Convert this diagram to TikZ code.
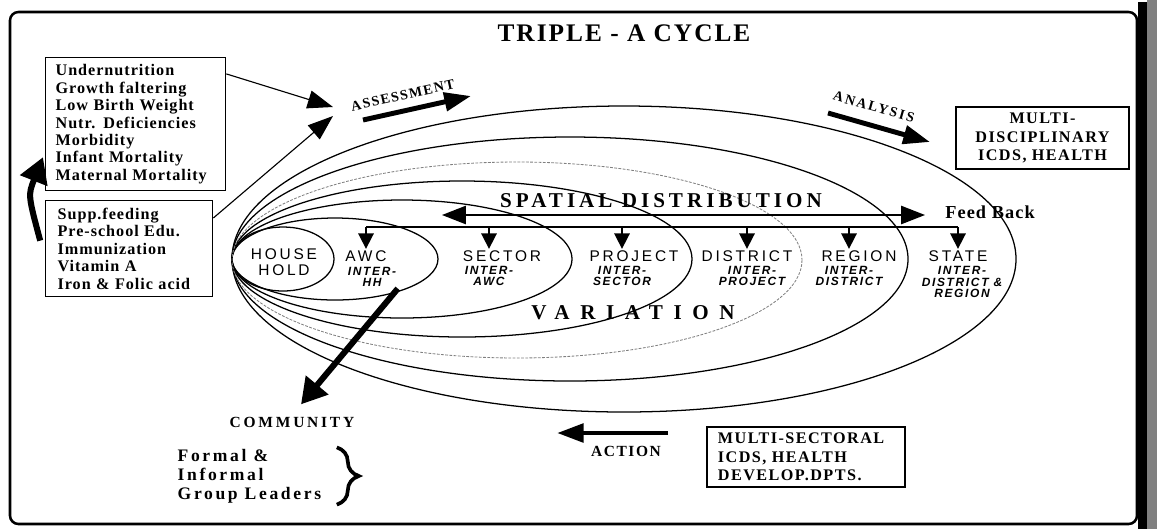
\documentclass[tikz,border=0pt]{standalone}
\usepackage{fontspec}
\setmainfont{Liberation Serif}
\setsansfont{Liberation Sans}
\usepackage{tikz}
\usetikzlibrary{arrows.meta,decorations.pathreplacing,positioning}

\newcommand{\spacedbf}[3]{\fontsize{#1}{#2}\selectfont\bfseries\addfontfeature{LetterSpace=#3}}

\begin{document}
\begin{tikzpicture}[
  x=0.025cm, y=-0.025cm,
  title/.style={font=\spacedbf{18}{20}{8}, inner sep=1pt},
  banner/.style={font=\spacedbf{15}{17}{#1}, inner sep=1pt},
  tag/.style n args={3}{font=\spacedbf{#1}{#2}{#3}, inner sep=1pt},
  listbox/.style={draw, line width=0.9pt, align=left, inner ysep=0pt, font=\spacedbf{11.5}{12.4}{6}},
  deptbox/.style={draw, line width=0.9pt, inner ysep=0pt, font=\spacedbf{11.5}{13}{9}},
  level/.style={font=\sffamily\fontsize{11}{11.4}\selectfont\addfontfeature{LetterSpace=18}, inner sep=1pt, align=center},
  inter/.style={font=\sffamily\bfseries\itshape\fontsize{8.5}{8.2}\selectfont\addfontfeature{LetterSpace=14}, inner sep=1pt, align=center},
  ring/.style={line width=0.9pt},
  drop/.style={line width=1.2pt, -{Triangle[length=11pt,width=11pt]}},
  feedback/.style={line width=1.2pt, {Triangle[length=17pt,width=13pt]}-{Triangle[length=17pt,width=13pt]}},
  pointer/.style={line width=0.8pt, -{Triangle[length=18pt,width=13pt]}},
  heavy/.style={line width=3.5pt, -{Triangle[length=19pt,width=13pt]}},
  fat/.style={line width=4.3pt, -{Triangle[length=18pt,width=20pt]}}
]
  \path[use as bounding box] (0,0) rectangle (1157,529);
  % frame with dark edge on the right
  \draw[line width=1.8pt, rounded corners=6pt] (10,12) rectangle (1137,524);
  \fill (1138,2) rectangle (1147,529);
  \fill[black!50] (1147,0) rectangle (1157,529);

  \node[title] (title) at (624,33) {TRIPLE - A CYCLE};

  % nested levels, all touching at the household end
  \foreach \cx/\rx/\ry in {283/51/32, 335/103/41, 402/170/59, 462/230/78, 570/338/122, 624/392/153}
    \draw[ring] (\cx,259) ellipse [x radius=\rx, y radius=\ry];
  \draw[line width=0.6pt, gray, dash pattern=on 2pt off 1pt] (517,260) ellipse [x radius=285, y radius=98];

  \node[level] (hh)       at (284,262) {HOUSE\\HOLD};
  \node[level] (awc)      at (366,256) {AWC};
  \node[inter] (awcsub)   at (372,277) {INTER-\\HH};
  \node[level] (sec)      at (502,256) {SECTOR};
  \node[inter] (secsub)   at (489,276) {INTER-\\AWC};
  \node[level] (proj)     at (634,256) {PROJECT};
  \node[inter] (projsub)  at (622,276) {INTER-\\SECTOR};
  \node[level] (dist)     at (747,256) {DISTRICT};
  \node[inter] (distsub)  at (752,276) {INTER-\\PROJECT};
  \node[level] (reg)      at (859,256) {REGION};
  \node[inter] (regsub)   at (849,276) {INTER-\\DISTRICT};
  \node[level] (state)    at (958,256) {STATE};
  \node[inter] (statesub) at (962,282) {INTER-\\DISTRICT \&\\REGION};

  \node[banner=19] (spatial) at (661,201) {SPATIAL DISTRIBUTION};
  \node[banner=50] (variation) at (633,313) {VARIATION};

  % feed back and distribution lines
  \coordinate (fbl) at (442,215);
  \coordinate (fbr) at (925,215);
  \draw[feedback] (fbl) -- (fbr);
  \node[tag={13}{14}{6}] (feed) at (990,212) {Feed Back};
  \coordinate (bus) at (0,227);
  \draw[line width=1.2pt] (awc.north |- bus) -- (state.north |- bus);
  \foreach \n in {awc,secsub,projsub,dist,regsub,state}
    \draw[drop] (\n.north |- bus) -- (\n.north |- sec.north);

  % left boxes
  \node[listbox, text width=4cm, inner xsep=0.25cm, minimum height=3.325cm, anchor=north west] (effects) at (45,57)
    {Undernutrition\\Growth faltering\\Low Birth Weight\\Nutr. Deficiencies\\Morbidity\\Infant Mortality\\Maternal Mortality};
  \node[listbox, text width=3.575cm, inner xsep=0.3cm, minimum height=2.4cm, anchor=north west] (inputs) at (45,200)
    {Supp.feeding\\Pre-school Edu.\\Immunization\\Vitamin A\\Iron \& Folic acid};
  \draw[fat] ([xshift=-0.12cm, yshift=0.2cm]inputs.west) .. controls (28,195) .. ([xshift=-0.05cm]effects.-160);
  \coordinate (hit1) at (333,107);
  \coordinate (hit2) at (333,116);
  \draw[pointer] (effects.29) -- (hit1);
  \draw[pointer] (inputs.20) -- (hit2);

  % assessment and analysis
  \coordinate (as1) at (363,120);
  \coordinate (as2) at (471,96);
  \draw[heavy] (as1) -- node[tag={10}{11}{10}, sloped, above=5pt, pos=0.4] (assess) {ASSESSMENT} (as2);
  \coordinate (an1) at (828,113);
  \coordinate (an2) at (930,142);
  \draw[heavy] (an1) -- node[tag={10}{11}{14}, sloped, above=7pt, pos=0.4] (analysis) {ANALYSIS} (an2);
  \node[deptbox, align=center, text width=3.925cm, inner xsep=0.2cm, minimum height=1.55cm] (discip) at (1042.5,138)
    {MULTI-\\DISCIPLINARY\\ICDS, HEALTH};

  % action and community
  \node[tag={11}{12}{18}] (community) at (292,422) {COMMUNITY};
  \draw[fat, shorten >=0.35cm] (awcsub.south east) -- (community.north);
  \node[tag={12.5}{13.5}{15}, align=left, anchor=west] (leaders) at (176,476) {Formal \&\\Informal\\Group Leaders};
  \draw[line width=2.6pt, decorate, decoration={brace, amplitude=0.55cm}]
    ([xshift=0.35cm]leaders.north east) -- ([xshift=0.35cm]leaders.south east);
  \coordinate (ac1) at (668,433);
  \coordinate (ac2) at (557,433);
  \draw[heavy] (ac1) -- (ac2);
  \node[tag={11}{12}{10}] (action) at (626,451) {ACTION};
  \node[deptbox, align=left, text width=4.4cm, inner xsep=0.275cm, minimum height=1.5cm] (sectoral) at (806,457)
    {MULTI-SECTORAL\\ICDS, HEALTH\\DEVELOP.DPTS.};
\end{tikzpicture}
\end{document}
